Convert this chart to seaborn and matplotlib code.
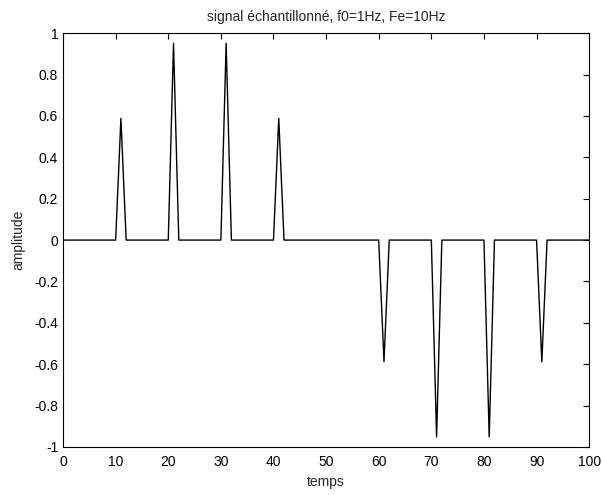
import numpy as np
import matplotlib
matplotlib.use('Agg')
import matplotlib.pyplot as plt
import seaborn as sns

# échantillons non nuls (indice, valeur), le reste du signal est nul
sample_idx = [1, 11, 21, 31, 41, 51, 61, 71, 81, 91]
sample_vals = [0.0, 0.588, 0.951, 0.951, 0.588, 0.0, -0.588, -0.951, -0.951, -0.588]
n_points = 101

t = np.arange(n_points)
signal = np.zeros(n_points)
signal[sample_idx] = sample_vals

sns.set_style('white')
plt.rcParams['font.family'] = ['Liberation Sans', 'DejaVu Sans']
plt.rcParams['font.size'] = 10

fig = plt.figure(figsize=(6.02, 4.95), dpi=100)
ax = fig.add_axes([0.1047, 0.097, 0.874, 0.836])
sns.lineplot(x=t, y=signal, ax=ax, color='black', linewidth=1.0)

ax.set_xlim(0, 100)
ax.set_ylim(-1, 1)
ax.set_xticks(np.arange(0, 101, 10))
ax.set_yticks(np.round(np.arange(-1, 1.01, 0.2), 1))
ax.set_yticklabels(['-1', '-0.8', '-0.6', '-0.4', '-0.2', '0', '0.2', '0.4', '0.6', '0.8', '1'])
ax.tick_params(direction='in', top=True, right=True, length=4, width=0.8, colors='black', labelsize=10)
ax.tick_params(axis='x', pad=6)
for s in ax.spines.values():
    s.set_color('black')
    s.set_linewidth(0.8)

ax.set_title('signal échantillonné, f0=1Hz, Fe=10Hz', fontsize=10, pad=9)
ax.set_xlabel('temps', fontsize=10, labelpad=4)
ax.set_ylabel('amplitude', fontsize=10, labelpad=6)

fig.savefig('out.png', dpi=100, facecolor='white')
